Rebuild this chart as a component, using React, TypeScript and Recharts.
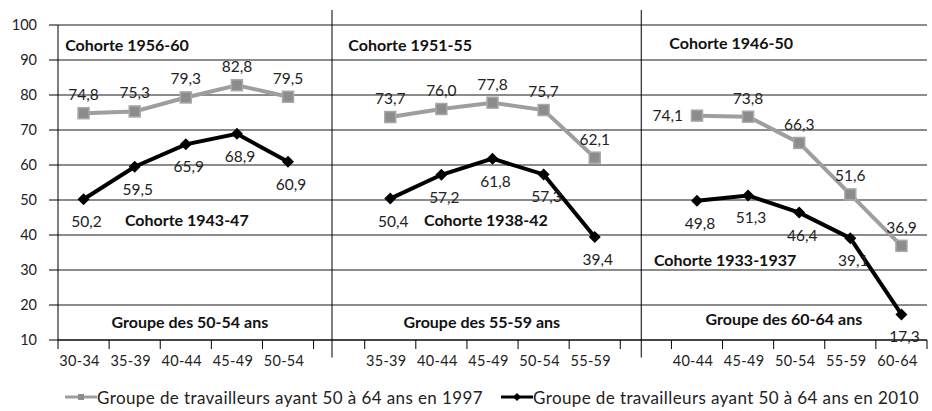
import React from 'react';
import { LineChart, Line, XAxis, YAxis, CartesianGrid, Legend, ReferenceLine, ReferenceDot, LabelList } from 'recharts';

// Age groups shown in each of the three panels
const panelAges = [
  ['30-34', '35-39', '40-44', '45-49', '50-54'],
  ['35-39', '40-44', '45-49', '50-54', '55-59'],
  ['40-44', '45-49', '50-54', '55-59', '60-64'],
];

// Taux d'emploi, groupe de travailleurs ayant 50 à 64 ans en 1997
const values1997 = [
  [74.8, 75.3, 79.3, 82.8, 79.5],
  [73.7, 76.0, 77.8, 75.7, 62.1],
  [74.1, 73.8, 66.3, 51.6, 36.9],
];

// ... ayant 50 à 64 ans en 2010
const values2010 = [
  [50.2, 59.5, 65.9, 68.9, 60.9],
  [50.4, 57.2, 61.8, 57.3, 39.4],
  [49.8, 51.3, 46.4, 39.1, 17.3],
];

const yTicks = [10, 20, 30, 40, 50, 60, 70, 80, 90, 100];

const legendNames = [
  'Groupe de travailleurs ayant 50 à 64 ans en 1997',
  'Groupe de travailleurs ayant 50 à 64 ans en 2010',
];

// text annotations (x in category slots, y in chart units)
const annotations = [
  { text: 'Cohorte 1956-60', x: 1.35, y: 94.3 },
  { text: 'Cohorte 1943-47', x: 2.52, y: 44.3 },
  { text: 'Groupe des 50-54 ans', x: 2.58, y: 15.1 },
  { text: 'Cohorte 1951-55', x: 6.89, y: 94.3 },
  { text: 'Cohorte 1938-42', x: 8.37, y: 44.3 },
  { text: 'Groupe des 55-59 ans', x: 8.29, y: 15.1 },
  { text: 'Cohorte 1946-50', x: 13.17, y: 94.9 },
  { text: 'Cohorte 1933-1937', x: 13.05, y: 32.9 },
  { text: 'Groupe des 60-64 ans', x: 14.2, y: 15.8 },
];

const dividers = [5.36, 11.41];

// build rows: 5 slots per panel, one empty slot between panels
type Row = { x: number; label: string; v1997: number | null; v2010: number | null };
const rows: Row[] = [];
let slot = 0;
panelAges.forEach((ages, p) => {
  ages.forEach((age, i) => {
    rows.push({ x: slot + 0.5, label: age, v1997: values1997[p][i], v2010: values2010[p][i] });
    slot++;
  });
  if (p < panelAges.length - 1) {
    rows.push({ x: slot + 0.5, label: '', v1997: null, v2010: null });
    slot++;
  }
});
const xTicks: number[] = [];
for (let i = 0; i <= slot * 2; i++) xTicks.push(i / 2);

const FONT = 'Lato, "Open Sans", sans-serif';
const GRAY = '#9e9e9e';

const fmt = (v: number) => v.toFixed(1).replace('.', ',');

const XTick = (props: any) => {
  const { x, y, payload } = props;
  const v = payload.value;
  if (Number.isInteger(v)) {
    return <line x1={x} x2={x} y1={y} y2={y + 9} stroke="#000" strokeWidth={1} />;
  }
  const row = rows.find(r => r.x === v);
  if (!row || !row.label) return null;
  return (
    <text x={x - 4} y={y + 26} textAnchor="middle" fontSize={14.5} fill="#222" fontFamily={FONT} letterSpacing={0.3}>
      {row.label}
    </text>
  );
};

const SquareDot = (props: any) => {
  const { cx, cy, value } = props;
  if (value == null || cx == null || cy == null) return null;
  return <rect x={cx - 5.5} y={cy - 5.5} width={11} height={11} fill="#8c8c8c" stroke="#a9a9a9" strokeWidth={1.5} />;
};

const DiamondDot = (props: any) => {
  const { cx, cy, value } = props;
  if (value == null || cx == null || cy == null) return null;
  return <polygon points={`${cx},${cy - 6} ${cx + 6},${cy} ${cx},${cy + 6} ${cx - 6},${cy}`} fill="#000" />;
};

const label1997 = (props: any) => {
  const { x, y, value, index } = props;
  if (value == null) return null;
  const left = index === 12;
  return (
    <text
      x={left ? x - 14 : x}
      y={left ? y + 5 : y - 13}
      textAnchor={left ? 'end' : 'middle'}
      fontSize={15.5}
      fill="#222"
      fontFamily={FONT}
    >
      {fmt(value)}
    </text>
  );
};

const label2010 = (props: any) => {
  const { x, y, value } = props;
  if (value == null) return null;
  return (
    <text x={x + 3} y={y + 28} textAnchor="middle" fontSize={15.5} fill="#222" fontFamily={FONT}>
      {fmt(value)}
    </text>
  );
};

const LegendContent = () => (
  <div style={{ height: 28, display: 'flex', alignItems: 'center', paddingLeft: 65, fontFamily: FONT, fontSize: 17, letterSpacing: 0.4, color: '#222', whiteSpace: 'nowrap' }}>
    <svg width={32} height={12}>
      <line x1={0} x2={32} y1={6} y2={6} stroke={GRAY} strokeWidth={3} />
      <rect x={13} y={3} width={6} height={6} fill="#8c8c8c" />
    </svg>
    <span style={{ marginRight: 18 }}>{legendNames[0]}</span>
    <svg width={32} height={12}>
      <line x1={0} x2={32} y1={6} y2={6} stroke="#000" strokeWidth={3} />
      <polygon points="16,2 20,6 16,10 12,6" fill="#000" />
    </svg>
    <span>{legendNames[1]}</span>
  </div>
);

export default function App() {
  return (
    <div style={{ position: 'absolute', left: 0, top: 0, background: '#fff' }}>
      <LineChart width={932} height={411} data={rows} margin={{ top: 25, right: 5, bottom: 0, left: 0 }}>
        <CartesianGrid horizontal vertical={false} stroke="#000" strokeOpacity={0.9} />
        <XAxis
          type="number"
          dataKey="x"
          domain={[0, slot]}
          ticks={xTicks}
          interval={0}
          tickSize={0}
          tickMargin={0}
          tickLine={false}
          axisLine={{ stroke: '#000' }}
          tick={<XTick />}
          height={43}
        />
        <YAxis
          domain={[10, 100]}
          ticks={yTicks}
          interval={0}
          width={58}
          tickSize={9}
          tickMargin={12}
          tickLine={{ stroke: '#000' }}
          axisLine={{ stroke: '#000' }}
          tick={{ fontSize: 14.5, fill: '#222', fontFamily: FONT }}
        />
        {dividers.map(d => (
          <ReferenceLine
            key={d}
            segment={[{ x: d, y: 104.3 }, { x: d, y: 5 }]}
            stroke="#000"
            strokeWidth={1}
            ifOverflow="visible"
          />
        ))}
        <Legend verticalAlign="bottom" content={<LegendContent />} />
        <Line
          dataKey="v1997"
          stroke={GRAY}
          strokeWidth={4}
          dot={<SquareDot />}
          activeDot={false}
          connectNulls={false}
          isAnimationActive={false}
        >
          <LabelList dataKey="v1997" content={label1997} />
        </Line>
        <Line
          dataKey="v2010"
          stroke="#000"
          strokeWidth={4}
          dot={<DiamondDot />}
          activeDot={false}
          connectNulls={false}
          isAnimationActive={false}
        >
          <LabelList dataKey="v2010" content={label2010} />
        </Line>
        {annotations.map(a => (
          <ReferenceDot
            key={a.text}
            x={a.x}
            y={a.y}
            r={0}
            stroke="none"
            fill="none"
            label={{ value: a.text, position: 'center', fontSize: 16, fontWeight: 700, fill: '#111', fontFamily: FONT }}
          />
        ))}
      </LineChart>
    </div>
  );
}
